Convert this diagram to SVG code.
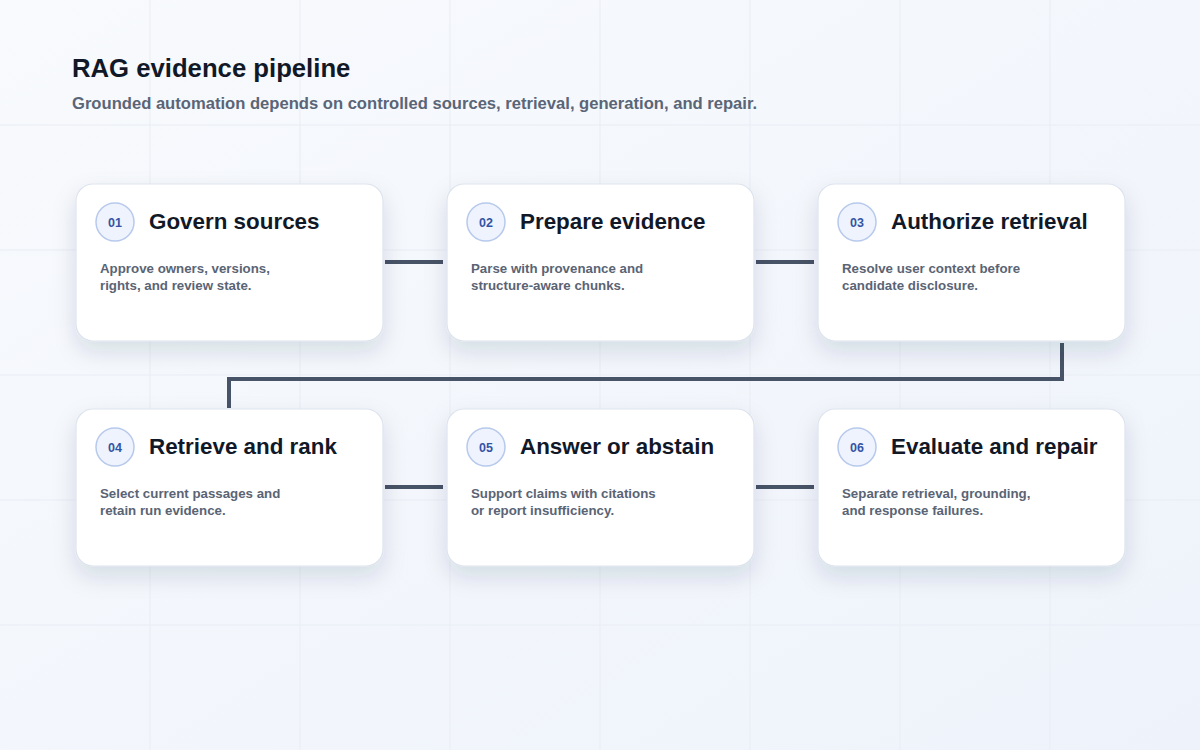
<svg xmlns="http://www.w3.org/2000/svg" width="1200" height="750" viewBox="0 0 1200 750">
<defs>
<linearGradient id="bg" x1="0" y1="0" x2="1" y2="1">
<stop offset="0" stop-color="#f8fafd"/>
<stop offset="1" stop-color="#eef3fb"/>
</linearGradient>
<filter id="shadow" x="-25%" y="-25%" width="150%" height="180%">
<feDropShadow dx="0" dy="10" stdDeviation="11" flood-color="#1e2b4a" flood-opacity="0.13"/>
</filter>
<style>
.grid{stroke:#e9edf4;stroke-width:1}
.card{fill:#ffffff;stroke:#dde3ee;stroke-width:1.2;filter:url(#shadow)}
.badge{fill:#eef3fd;stroke:#b7c9ec;stroke-width:1.5}
.num{font-family:"Liberation Sans",Arial,sans-serif;font-weight:700;font-size:12.5px;fill:#3553a5;text-anchor:middle}
.title{font-family:"Liberation Sans",Arial,sans-serif;font-weight:700;font-size:22.4px;fill:#111827}
.desc{font-family:"Liberation Sans",Arial,sans-serif;font-weight:700;font-size:13.3px;fill:#5a6474}
.conn{fill:none;stroke:#475366;stroke-width:4;stroke-linejoin:miter}
</style>
</defs>
<rect width="1200" height="750" fill="url(#bg)"/>
<g id="grid">
<path class="grid" d="M150 0V750M300 0V750M450 0V750M600 0V750M750 0V750M900 0V750M1050 0V750M0 125H1200M0 250H1200M0 375H1200M0 500H1200M0 625H1200"/>
</g>
<g id="header">
<text x="72" y="77" font-family="Liberation Sans,Arial,sans-serif" font-weight="700" font-size="25.7" fill="#111827">RAG evidence pipeline</text>
<text x="72" y="109" font-family="Liberation Sans,Arial,sans-serif" font-weight="700" font-size="16.6" fill="#5a6577">Grounded automation depends on controlled sources, retrieval, generation, and repair.</text>
</g>
<g id="connectors">
<path class="conn" d="M385 262H443"/>
<path class="conn" d="M756 262H814"/>
<path class="conn" d="M1062 343V379H229V408"/>
<path class="conn" d="M385 487H443"/>
<path class="conn" d="M756 487H814"/>
</g>
<g id="node1">
<rect class="card" x="76" y="184" width="307" height="157" rx="17"/>
<circle class="badge" cx="115" cy="222" r="19"/>
<text class="num" x="115" y="226.5">01</text>
<text class="title" x="149" y="229">Govern sources</text>
<text class="desc" x="100" y="273">Approve owners, versions,</text>
<text class="desc" x="100" y="290">rights, and review state.</text>
</g>
<g id="node2">
<rect class="card" x="447" y="184" width="307" height="157" rx="17"/>
<circle class="badge" cx="486" cy="222" r="19"/>
<text class="num" x="486" y="226.5">02</text>
<text class="title" x="520" y="229">Prepare evidence</text>
<text class="desc" x="471" y="273">Parse with provenance and</text>
<text class="desc" x="471" y="290">structure-aware chunks.</text>
</g>
<g id="node3">
<rect class="card" x="818" y="184" width="307" height="157" rx="17"/>
<circle class="badge" cx="857" cy="222" r="19"/>
<text class="num" x="857" y="226.5">03</text>
<text class="title" x="891" y="229">Authorize retrieval</text>
<text class="desc" x="842" y="273">Resolve user context before</text>
<text class="desc" x="842" y="290">candidate disclosure.</text>
</g>
<g id="node4">
<rect class="card" x="76" y="409" width="307" height="157" rx="17"/>
<circle class="badge" cx="115" cy="447" r="19"/>
<text class="num" x="115" y="451.5">04</text>
<text class="title" x="149" y="454">Retrieve and rank</text>
<text class="desc" x="100" y="498">Select current passages and</text>
<text class="desc" x="100" y="515">retain run evidence.</text>
</g>
<g id="node5">
<rect class="card" x="447" y="409" width="307" height="157" rx="17"/>
<circle class="badge" cx="486" cy="447" r="19"/>
<text class="num" x="486" y="451.5">05</text>
<text class="title" x="520" y="454">Answer or abstain</text>
<text class="desc" x="471" y="498">Support claims with citations</text>
<text class="desc" x="471" y="515">or report insufficiency.</text>
</g>
<g id="node6">
<rect class="card" x="818" y="409" width="307" height="157" rx="17"/>
<circle class="badge" cx="857" cy="447" r="19"/>
<text class="num" x="857" y="451.5">06</text>
<text class="title" x="891" y="454">Evaluate and repair</text>
<text class="desc" x="842" y="498">Separate retrieval, grounding,</text>
<text class="desc" x="842" y="515">and response failures.</text>
</g>
</svg>
